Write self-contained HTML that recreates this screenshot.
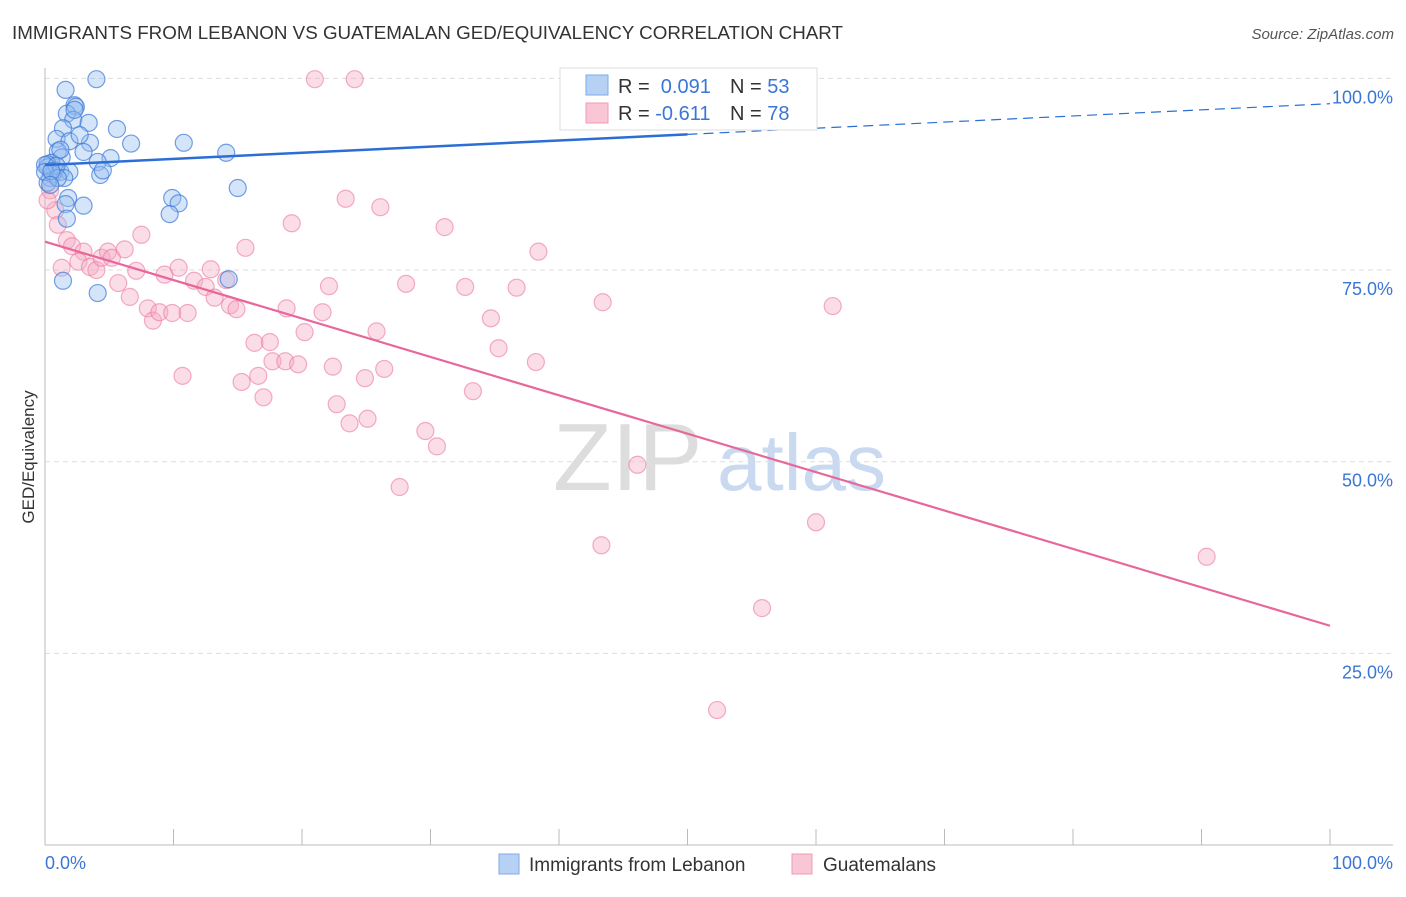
<!DOCTYPE html>
<html><head><meta charset="utf-8">
<style>
body{margin:0;background:#fff;font-family:"Liberation Sans",sans-serif;}
svg text{font-family:"Liberation Sans",sans-serif;}
</style></head>
<body>
<svg id="chart" width="1406" height="892" xmlns="http://www.w3.org/2000/svg">
<text x="12" y="39" font-size="18" fill="#333" textLength="831" lengthAdjust="spacingAndGlyphs">IMMIGRANTS FROM LEBANON VS GUATEMALAN GED/EQUIVALENCY CORRELATION CHART</text>
<text x="1394" y="39" font-size="15" fill="#555" text-anchor="end" font-style="italic">Source: ZipAtlas.com</text>
<g>
<text x="553" y="490" font-size="96" fill="#ddd" font-family="Liberation Serif,serif">ZIP</text>
<text x="717" y="490" font-size="80" fill="#c8d9f0">atlas</text>
</g>
<g id="grid"></g>
<g id="axes"></g>
<g id="marks"></g>
<text transform="translate(34,457) rotate(-90)" font-size="17" fill="#333" text-anchor="middle">GED/Equivalency</text>
<g>
<rect x="560" y="68" width="257" height="62" fill="#fff" stroke="#ddd"/>
<rect x="586" y="75" width="22" height="20" fill="#b7d1f5" stroke="#7eaaea"/>
<rect x="586" y="103" width="22" height="20" fill="#f9c6d5" stroke="#f09ab4"/>
<text x="618" y="93" font-size="20" fill="#333">R = <tspan fill="#3a76d6">&#160;0.091</tspan></text>
<text x="730" y="93" font-size="20" fill="#333">N = <tspan fill="#3a76d6">53</tspan></text>
<text x="618" y="120" font-size="20" fill="#333">R = <tspan fill="#3a76d6">-0.611</tspan></text>
<text x="730" y="120" font-size="20" fill="#333">N = <tspan fill="#3a76d6">78</tspan></text>
</g>
<g>
<rect x="499" y="854" width="20" height="20" fill="#b7d1f5" stroke="#7eaaea"/>
<text x="529" y="871" font-size="19" fill="#333">Immigrants from Lebanon</text>
<rect x="792" y="854" width="20" height="20" fill="#f9c6d5" stroke="#f09ab4"/>
<text x="823" y="871" font-size="19" fill="#333">Guatemalans</text>
</g>
</svg>
<script>
const blueX=[4.0,1.6,2.3,2.4,1.7,2.2,3.4,5.6,1.4,0.9,1.9,3.5,6.7,10.8,14.1,1.0,1.3,0.5,3.0,5.1,4.1,0.2,0.8,1.2,1.9,0.4,4.3,4.5,15.0,9.9,10.4,9.7,1.8,1.6,3.0,1.7,14.3,1.4,4.1,42.6,0.2,0.6,0.2,0.0,0.9,1.2,2.3,2.7,0.0,1.5,1.0,0.5,0.4];
const blueY=[99.9,98.5,96.5,96.3,95.4,94.6,94.2,93.4,93.5,92.1,91.8,91.6,91.5,91.6,90.3,90.5,89.7,89.0,90.4,89.6,89.1,88.8,88.0,87.8,87.8,87.0,87.4,88.0,85.7,84.4,83.7,82.3,84.4,83.6,83.4,81.7,73.8,73.6,72.0,99.8,88.4,87.5,86.4,88.7,88.6,90.7,95.9,92.6,87.8,87.0,87.0,87.9,86.1];
const pinkX=[21.0,24.1,0.4,0.8,1.0,1.7,2.1,3.0,2.6,3.5,4.0,4.4,4.9,6.2,5.2,7.5,7.1,5.7,6.6,8.0,8.4,8.9,9.9,11.1,9.3,10.4,11.6,12.5,12.9,13.2,14.1,14.4,14.9,15.6,19.2,23.4,26.1,31.1,38.4,22.1,21.6,18.8,20.2,25.8,16.3,17.5,17.7,18.7,19.7,22.4,16.6,15.3,10.7,17.0,24.9,26.4,28.1,32.7,36.7,34.7,35.3,38.2,33.3,43.4,61.3,22.7,23.7,25.1,29.6,30.5,27.6,46.1,43.3,60.0,90.4,55.8,52.3,0.2,1.3];
const pinkY=[99.9,99.9,85.4,82.8,80.9,78.9,78.1,77.4,76.1,75.4,75.0,76.6,77.4,77.7,76.6,79.6,74.9,73.3,71.5,70.0,68.4,69.5,69.4,69.4,74.4,75.3,73.6,72.8,75.1,71.4,73.7,70.4,69.9,77.9,81.1,84.3,83.2,80.6,77.4,72.9,69.5,70.0,66.9,67.0,65.5,65.6,63.1,63.1,62.7,62.4,61.2,60.4,61.2,58.4,60.9,62.1,73.2,72.8,72.7,68.7,64.8,63.0,59.2,70.8,70.3,57.5,55.0,55.6,54.0,52.0,46.7,49.6,39.1,42.1,37.6,30.9,17.6,84.1,75.3];
const blueTrend=[88.7,96.7];
const pinkTrend=[78.7,28.6];
const yTicks=[100,75,50,25];
const yTickLabels=["100.0%","75.0%","50.0%","25.0%"];
const xTicks=[0,10,20,30,40,50,60,70,80,90,100];
const NS="http://www.w3.org/2000/svg";
const sx=v=>45+v*12.85;
const sy=v=>845-v*7.666;
function mk(tag,attrs,parent){const e=document.createElementNS(NS,tag);for(const k in attrs)e.setAttribute(k,attrs[k]);document.getElementById(parent).appendChild(e);return e;}
yTicks.forEach((t,i)=>{
  const l=mk('line',{x1:45,x2:1393,y1:sy(t),y2:sy(t),stroke:'#ddd','stroke-dasharray':'5,4'},'grid');
  
  
  const tx=mk('text',{x:1393,y:sy(t)+25,'font-size':18,fill:'#3a76d6','text-anchor':'end'},'axes');
  tx.textContent=yTickLabels[i];
  
  
});
const ya=mk('line',{x1:45,x2:45,y1:68,y2:845,stroke:'#bbb'},'axes');


const xa=mk('line',{x1:45,x2:1393,y1:845,y2:845,stroke:'#bbb'},'axes');


xTicks.forEach(t=>{
  const l=mk('line',{x1:sx(t),x2:sx(t),y1:829,y2:845,stroke:'#bbb'},'axes');
  
  
});
const x0=mk('text',{x:45,y:869,'font-size':18,fill:'#3a76d6'},'axes');x0.textContent='0.0%';


const x1=mk('text',{x:1393,y:869,'font-size':18,fill:'#3a76d6','text-anchor':'end'},'axes');x1.textContent='100.0%';


pinkX.forEach((v,i)=>{
  const c=mk('circle',{cx:sx(v),cy:sy(pinkY[i]),r:8.5,fill:'rgba(246,170,195,0.4)',stroke:'rgba(236,120,160,0.6)','stroke-width':1.2},'marks');
  
  
});
blueX.forEach((v,i)=>{
  const c=mk('circle',{cx:sx(v),cy:sy(blueY[i]),r:8.5,fill:'rgba(150,190,240,0.4)',stroke:'rgba(60,120,215,0.7)','stroke-width':1.2},'marks');
  
  
});
const bm=blueTrend[0]+(blueTrend[1]-blueTrend[0])*0.5;
const bl=mk('line',{x1:sx(0),y1:sy(blueTrend[0]),x2:sx(50),y2:sy(bm),stroke:'#2a6ed6','stroke-width':2.5},'marks');


const bd=mk('line',{x1:sx(50),y1:sy(bm),x2:sx(100),y2:sy(blueTrend[1]),stroke:'#2a6ed6','stroke-width':1.2,'stroke-dasharray':'10,6'},'marks');


const pl=mk('line',{x1:sx(0),y1:sy(pinkTrend[0]),x2:sx(100),y2:sy(pinkTrend[1]),stroke:'#e8679a','stroke-width':2.2},'marks');


</script>
</body></html>
